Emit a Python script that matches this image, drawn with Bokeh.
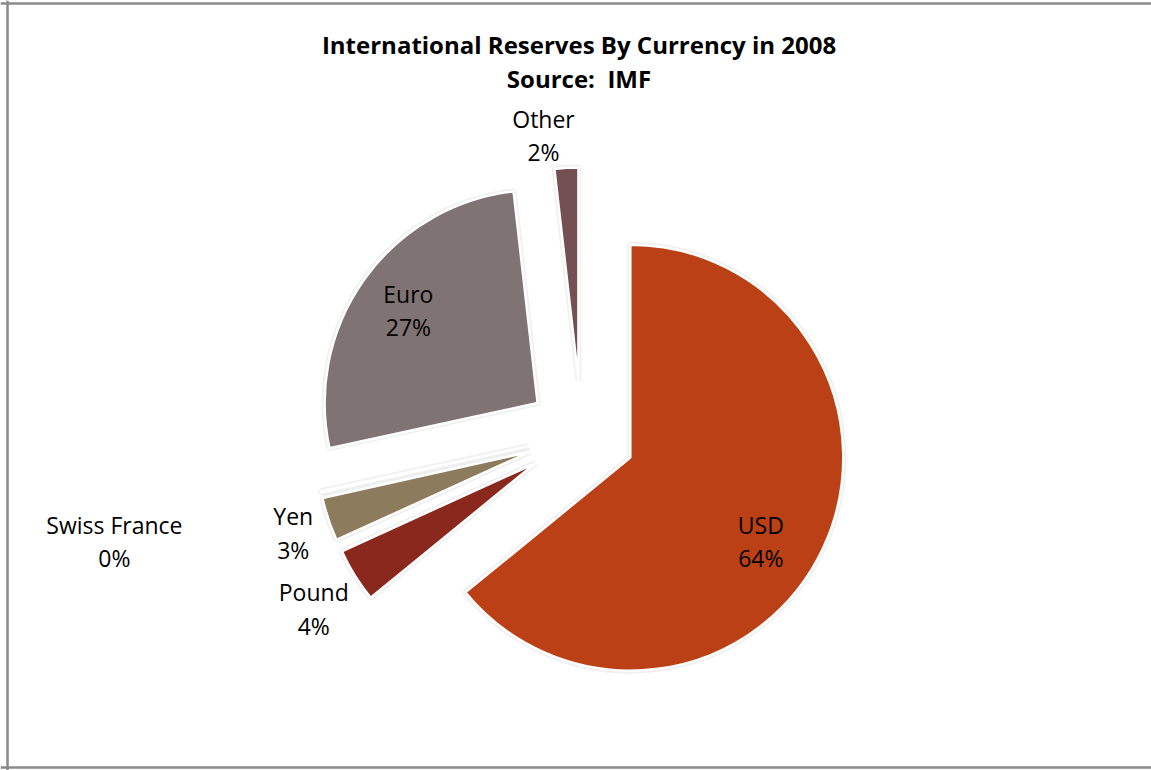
import math
from bokeh.plotting import figure
from bokeh.models import Range1d, Span, ColumnDataSource
from bokeh.core.properties import value
from bokeh.embed import file_html
from bokeh.resources import INLINE

# ---- data ----
categories = ["USD", "Pound", "Yen", "Swiss France", "Euro", "Other"]
shares = [64.1, 4.1, 3.3, 0.1, 26.6, 1.8]
colors = ["#BC4015", "#8A281D", "#8C7B5C", "#9A8A6A", "#807373", "#745052"]
title_lines = ["International Reserves By Currency in 2008", "Source:\u00a0 IMF"]

# label layout: radial distance (fraction of radius) and angle nudge (deg)
label_dist = [0.98, 1.50, 1.43, 2.25, 1.00, 1.415]
label_nudge = [-5.4, 1.2, 0.3, 0.5, 0.0, 4.0]

W, H = 1151, 770
CX, CY = 581, H - 434     # pie centre
R = 213                   # pie radius
EXPLODE = 54              # explosion distance

total = sum(shares)
xs, ys, starts, ends, lx, ly, texts = [], [], [], [], [], [], []
cum = 0.0
for i, v in enumerate(shares):
    a0 = 90 - (cum + v) / total * 360
    a1 = 90 - cum / total * 360
    mid = math.radians((a0 + a1) / 2)
    xs.append(CX + EXPLODE * math.cos(mid))
    ys.append(CY + EXPLODE * math.sin(mid))
    starts.append(math.radians(a0))
    ends.append(math.radians(a1))
    la = mid + math.radians(label_nudge[i])
    lx.append(CX + label_dist[i] * R * math.cos(la))
    ly.append(CY + label_dist[i] * R * math.sin(la))
    texts.append(f"{categories[i]}\n{round(v):.0f}%")
    cum += v

src = ColumnDataSource(dict(x=xs, y=ys, start=starts, end=ends, color=colors,
                            lx=lx, ly=ly, text=texts))

p = figure(width=W, height=H, x_range=Range1d(0, W), y_range=Range1d(0, H),
           min_border=0, toolbar_location=None, output_backend="svg",
           x_axis_location=None, y_axis_location=None)
p.grid.visible = False
p.outline_line_color = None
p.background_fill_color = "white"

# chart border (left/top/bottom visible, right edge beyond the window)
for loc, dim in [(7, "height"), (H - 3, "width"), (H - 767, "width")]:
    p.add_layout(Span(location=loc, dimension=dim, line_color="#8a8a8a",
                      line_alpha=1.0, line_width=2.5))

# soft shadow
p.wedge(x="x", y="y", radius=R, start_angle="start", end_angle="end",
        source=src, fill_alpha=0, line_color="#000000", line_alpha=0.06, line_width=6)
# slices
p.wedge(x="x", y="y", radius=R, start_angle="start", end_angle="end",
        source=src, fill_color="color", line_color="white", line_width=2.5)

# data labels
p.text(x="lx", y="ly", text="text", source=src, text_align="center",
       text_baseline="middle", text_font=value("Open Sans"),
       text_font_size="23px", text_color="black", text_line_height=1.05)

# title
tsrc = ColumnDataSource(dict(x=[W / 2 + 3, W / 2 + 3], y=[H - 44, H - 78], text=title_lines))
p.text(x="x", y="y", text="text", source=tsrc, text_align="center",
       text_baseline="middle", text_font=value("Open Sans"),
       text_font_style="bold", text_font_size="24px", text_color="black")

open("out.html", "w").write(file_html(p, INLINE))
